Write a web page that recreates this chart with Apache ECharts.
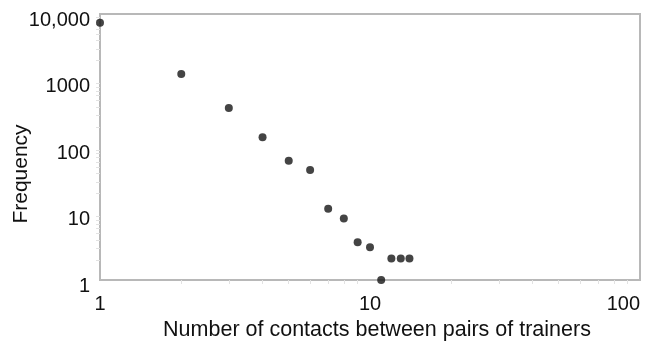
<!DOCTYPE html>
<html>
<head>
<meta charset="utf-8">
<script src="https://cdn.jsdelivr.net/npm/echarts@6/dist/echarts.min.js"></script>
<style>
html,body{margin:0;padding:0;background:#fff;}
#chart{width:647px;height:350px;}
</style>
</head>
<body>
<div id="chart"></div>
<script>
var contacts = [1, 2, 3, 4, 5, 6, 7, 8, 9, 10, 11, 12, 13, 14];
var frequency = [7400, 1250, 385, 140, 62, 45, 11.8, 8.4, 3.7, 3.1, 1, 2.1, 2.1, 2.1];
var yTickLabels = {1: '1', 10: '10', 100: '100', 1000: '1000', 10000: '10,000'};
var xTickLabels = {1: '1', 10: '10', 100: '100'};
var xTitle = 'Number of contacts between pairs of trainers';
var yTitle = 'Frequency';

var points = contacts.map(function (c, i) { return [c, frequency[i]]; });
var font = 'Liberation Sans, Arial, Helvetica, sans-serif';
var chart = echarts.init(document.getElementById('chart'), null, {renderer: 'canvas'});
chart.setOption({
  animation: false,
  backgroundColor: '#ffffff',
  grid: {left: 100, right: 7, top: 14, bottom: 70, show: true, borderColor: '#b8b8b8', borderWidth: 2,
         containLabel: false, outerBoundsMode: 'none'},
  xAxis: {
    type: 'log', logBase: 10, min: 1, max: 100,
    name: xTitle, nameLocation: 'middle', nameGap: 39,
    nameMoveOverlap: false,
    nameTextStyle: {fontFamily: font, fontSize: 21.5, color: '#111', padding: [0, 0, 0, 14]},
    axisLine: {show: true, lineStyle: {color: '#b8b8b8', width: 2}},
    axisTick: {show: false},
    minorTick: {show: true, splitNumber: 9, length: 4, lineStyle: {color: '#e2e2e2'}},
    splitLine: {show: false},
    axisLabel: {
      fontFamily: font, fontSize: 20, color: '#111', margin: 14,
      alignMaxLabel: 'right',
      formatter: function (v) { return xTickLabels[Math.round(v)] || ''; }
    }
  },
  yAxis: {
    type: 'log', logBase: 10, min: 1, max: 10000,
    name: yTitle, nameLocation: 'middle', nameGap: 68, nameRotate: 90,
    nameMoveOverlap: false,
    nameTextStyle: {fontFamily: font, fontSize: 21, color: '#111', padding: [0, 54, 0, 0]},
    axisLine: {show: true, lineStyle: {color: '#b8b8b8', width: 2}},
    axisTick: {show: false},
    minorTick: {show: true, splitNumber: 9, length: 4, lineStyle: {color: '#e2e2e2'}},
    splitLine: {show: false},
    axisLabel: {
      fontFamily: font, fontSize: 20, color: '#111', margin: 10,
      verticalAlign: 'top', lineHeight: 12,
      formatter: function (v) { return yTickLabels[Math.round(v)] || ''; }
    }
  },
  series: [{
    type: 'scatter',
    data: points,
    symbol: 'circle',
    symbolSize: 8,
    itemStyle: {color: '#151515'},
    clip: false
  }]
});
</script>
</body>
</html>
